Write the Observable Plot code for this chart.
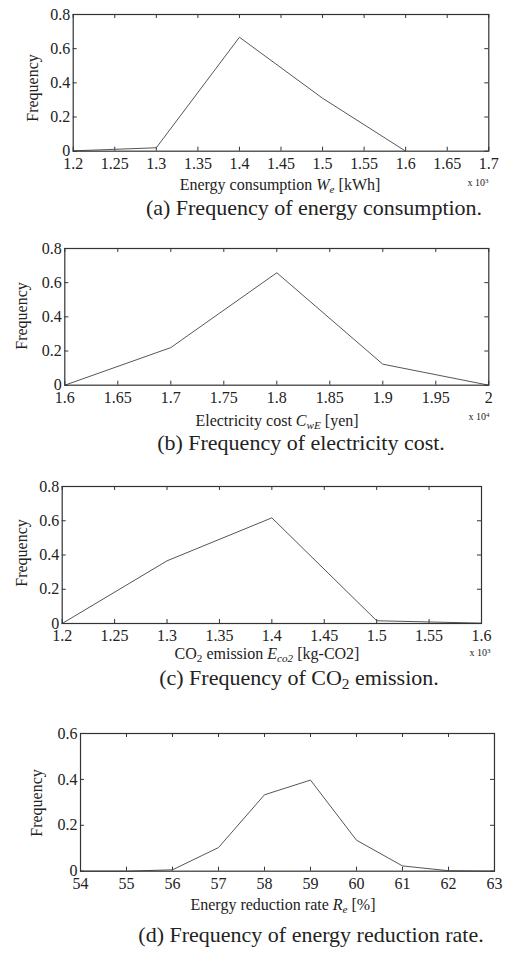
<!DOCTYPE html>
<html>
<head>
<meta charset="utf-8">
<script src="https://cdn.jsdelivr.net/npm/d3@7"></script>
<script src="https://cdn.jsdelivr.net/npm/@observablehq/plot@0.6"></script>
<style>
  html, body { margin: 0; padding: 0; background: #fff; }
  #root { position: relative; width: 507px; height: 963px; overflow: hidden; font-family: "Liberation Serif", "Times New Roman", serif; color: #222; }
  #root svg { position: absolute; left: 0; }
  #root svg text { font-family: "Liberation Serif", "Times New Roman", serif !important; }
  .lbl { position: absolute; white-space: nowrap; transform: translate(-50%, -50%); line-height: 1; }
  .xl { font-size: 16px; }
  .cap { font-size: 22px; }
  .yl { font-size: 16px; transform: translate(-50%, -50%) rotate(-90deg); }
  .mul { font-size: 10px; }
  sub { font-size: 70%; vertical-align: -0.25em; line-height: 0; }
  sup { font-size: 70%; vertical-align: 0.5em; line-height: 0; }
</style>
</head>
<body>
<div id="root"></div>
<script>
// ---- Data ----
// (a) Energy consumption [x10^3 kWh]
const energyX = [1.2, 1.3, 1.4, 1.5, 1.6];
const energyFreq = [0.002, 0.02, 0.667, 0.31, 0.0];
const energyTicks = [1.2, 1.25, 1.3, 1.35, 1.4, 1.45, 1.5, 1.55, 1.6, 1.65, 1.7];

// (b) Electricity cost [x10^4 yen]
const costX = [1.6, 1.7, 1.8, 1.9, 2.0];
const costFreq = [0.0, 0.22, 0.658, 0.123, 0.0];
const costTicks = [1.6, 1.65, 1.7, 1.75, 1.8, 1.85, 1.9, 1.95, 2.0];

// (c) CO2 emission [x10^3 kg-CO2]
const co2X = [1.2, 1.3, 1.4, 1.5, 1.6];
const co2Freq = [0.0, 0.366, 0.617, 0.016, 0.002];
const co2Ticks = [1.2, 1.25, 1.3, 1.35, 1.4, 1.45, 1.5, 1.55, 1.6];

// (d) Energy reduction rate [%]
const rateX = [54, 55, 56, 57, 58, 59, 60, 61, 62, 63];
const rateFreq = [0.0, 0.0, 0.006, 0.103, 0.333, 0.397, 0.135, 0.023, 0.002, 0.0];
const rateTicks = [54, 55, 56, 57, 58, 59, 60, 61, 62, 63];

const freqTicks08 = [0, 0.2, 0.4, 0.6, 0.8];
const freqTicks06 = [0, 0.2, 0.4, 0.6];

// ---- Layout / labels ----
const panels = [
  { x: energyX, y: energyFreq, xt: energyTicks, yt: freqTicks08, xd: [1.2, 1.7], yd: [0, 0.8],
    L: 72.7, R: 488.3, T: 14, B: 150.7,
    xlab: 'Energy consumption <i>W<sub>e</sub></i> [kWh]', xlx: 280, xly: 185,
    mul: '3', mx: 478, my: 183,
    cap: '(a) Frequency of energy consumption.', cx: 314, cy: 208,
    ylx: 33, yly: 88 },
  { x: costX, y: costFreq, xt: costTicks, yt: freqTicks08, xd: [1.6, 2.0], yd: [0, 0.8],
    L: 64.3, R: 488.3, T: 248.3, B: 385,
    xlab: 'Electricity cost <i>C<sub>wE</sub></i> [yen]', xlx: 277, xly: 421,
    mul: '4', mx: 479, my: 417,
    cap: '(b) Frequency of electricity cost.', cx: 301, cy: 443,
    ylx: 22, yly: 316 },
  { x: co2X, y: co2Freq, xt: co2Ticks, yt: freqTicks08, xd: [1.2, 1.6], yd: [0, 0.8],
    L: 61.7, R: 481, T: 485.7, B: 622.7,
    xlab: 'CO<sub>2</sub> emission <i>E<sub>co2</sub></i> [kg-CO2]', xlx: 267, xly: 654,
    mul: '3', mx: 480, my: 653,
    cap: '(c) Frequency of CO<sub>2</sub> emission.', cx: 299, cy: 678,
    ylx: 22, yly: 553 },
  { x: rateX, y: rateFreq, xt: rateTicks, yt: freqTicks06, xd: [54, 63], yd: [0, 0.6],
    L: 80, R: 494, T: 733, B: 870.7,
    xlab: 'Energy reduction rate <i>R<sub>e</sub></i> [%]', xlx: 283, xly: 905,
    mul: null,
    cap: '(d) Frequency of energy reduction rate.', cx: 311, cy: 935,
    ylx: 37, yly: 803 }
];

const root = document.getElementById('root');
const padTop = 12, padBottom = 26;
const serif = '"Liberation Serif", "Times New Roman", serif';

function addLabel(html, cls, x, y) {
  const d = document.createElement('div');
  d.className = 'lbl ' + cls;
  d.innerHTML = html;
  d.style.left = x + 'px';
  d.style.top = y + 'px';
  root.appendChild(d);
}

for (const p of panels) {
  const frameH = p.B - p.T;
  const frameW = p.R - p.L;
  const data = p.x.map((v, i) => ({ x: v, y: p.y[i] }));
  const tick = 4;
  const svg = Plot.plot({
    width: 507,
    height: frameH + padTop + padBottom,
    marginLeft: p.L,
    marginRight: 507 - p.R,
    marginTop: padTop,
    marginBottom: padBottom,
    x: { domain: p.xd },
    y: { domain: p.yd },
    style: { fontFamily: serif, fontSize: '16px', color: '#222', background: 'transparent', overflow: 'visible' },
    marks: [
      Plot.tickX(p.xt, { x: d => d, insetTop: frameH - tick, stroke: '#333' }),
      Plot.tickX(p.xt, { x: d => d, insetBottom: frameH - tick, stroke: '#333' }),
      Plot.tickY(p.yt, { y: d => d, insetRight: frameW - tick, stroke: '#333' }),
      Plot.tickY(p.yt, { y: d => d, insetLeft: frameW - tick, stroke: '#333' }),
      Plot.line(data, { x: 'x', y: 'y', stroke: '#555', strokeWidth: 1 }),
      Plot.frame({ stroke: '#333', strokeWidth: 1.2 }),
      Plot.axisX({ ticks: p.xt, tickSize: 0, tickPadding: 6, label: null, fontSize: 16, fontFamily: serif, tickFormat: d => String(d), fill: '#222' }),
      Plot.axisY({ ticks: p.yt, tickSize: 0, tickPadding: 3, label: null, fontSize: 16, fontFamily: serif, tickFormat: d => String(d), fill: '#222' })
    ]
  });
  svg.style.top = (p.T - padTop) + 'px';
  root.appendChild(svg);

  addLabel(p.xlab, 'xl', p.xlx, p.xly);
  addLabel('Frequency', 'yl', p.ylx, p.yly);
  addLabel(p.cap, 'cap', p.cx, p.cy);
  if (p.mul) addLabel('x 10<sup>' + p.mul + '</sup>', 'mul', p.mx, p.my);
}
</script>
</body>
</html>
